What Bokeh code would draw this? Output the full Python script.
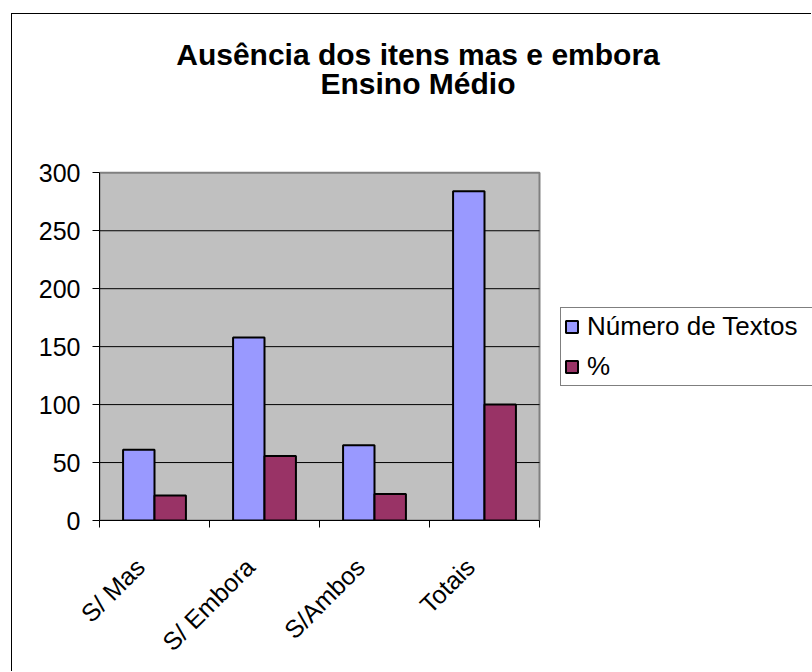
import numpy as np
from bokeh.plotting import figure
from bokeh.models import FixedTicker, Legend, LegendItem, Range1d, Label
from bokeh.embed import file_html
from bokeh.resources import INLINE

# Data
categories = ["S/ Mas", "S/ Embora", "S/Ambos", "Totais"]
numero_textos = [61, 158, 65, 284]
percentual = [21.5, 55.6, 22.9, 100]
y_ticks = [0, 50, 100, 150, 200, 250, 300]
series_names = ["Número de Textos", "%"]
title_lines = ["Ausência dos itens mas e embora", "Ensino Médio"]

FONT = "Liberation Sans"

# Layout (pixels). The frame covers the whole area right of the y axis;
# the grey plot area is a quad inside it, so title and legend can live there too.
FIG_W, FIG_H = 800, 658
BORDER_L, BORDER_B = 87, 152
FRAME_W, FRAME_H = FIG_W - BORDER_L, FIG_H - BORDER_B
AREA_W, AREA_H = 440.0, 347.7          # size of the grey plot area

n = len(categories)
y_max = y_ticks[-1]
x_scale = AREA_W / n                    # px per category
y_scale = AREA_H / y_max                # px per unit
x_end = FRAME_W / x_scale
y_end = FRAME_H / y_scale

def dx(px):            # horizontal pixel offset from frame left -> data
    return px / x_scale

def dy(px_from_top):   # pixel offset from frame top -> data
    return (FRAME_H - px_from_top) / y_scale

centers = np.arange(n) + 0.5
bar_w = 1 / 3.5          # two bars per category, gap width 150%
label_shift = 0.13       # category labels sit slightly left of the centre
boundaries = list(range(n + 1))

p = figure(
    width=FIG_W, height=FIG_H,
    x_range=Range1d(0, x_end), y_range=Range1d(0, y_end),
    title=None, output_backend="svg", toolbar_location=None,
    min_border_left=BORDER_L, min_border_right=0,
    min_border_top=0, min_border_bottom=BORDER_B,
    background_fill_color="white", border_fill_color="white",
    outline_line_color=None,
)
p.styles = {
    "margin-left": "11px", "margin-top": "13px",
    "border-left": "1px solid black", "border-top": "1px solid black",
}

# Grey plot area with its grey border
p.quad(left=0, right=n, bottom=0, top=y_max,
       fill_color="#C0C0C0", line_color="#808080", line_width=2)

# Horizontal gridlines
grid_y = [t for t in y_ticks if 0 < t < y_max]
p.segment(x0=[0] * len(grid_y), x1=[n] * len(grid_y), y0=grid_y, y1=grid_y,
          line_color="black", line_width=1)

r1 = p.vbar(x=centers - bar_w / 2, top=numero_textos, width=bar_w,
            fill_color="#9999FF", line_color="black", line_width=2)
r2 = p.vbar(x=centers + bar_w / 2, top=percentual, width=bar_w,
            fill_color="#993366", line_color="black", line_width=2)

# Title, two centred bold lines
title_cx = dx(318.5)
for line, base in zip(title_lines, [39.5, 69.0]):
    p.add_layout(Label(x=title_cx, y=dy(base), text=line,
                       text_font=FONT, text_font_size="30px", text_font_style="bold",
                       text_color="black", text_align="center",
                       text_baseline="alphabetic"))

# Y axis
p.yaxis.bounds = (0, y_max)
p.yaxis.ticker = FixedTicker(ticks=y_ticks)
p.yaxis.major_label_text_font = FONT
p.yaxis.major_label_text_font_size = "25px"
p.yaxis.major_label_text_color = "black"
p.yaxis.major_tick_out = 7
p.yaxis.major_tick_in = 0
p.yaxis.minor_tick_line_color = None
p.yaxis.axis_line_color = "black"
p.yaxis.major_tick_line_color = "black"
p.yaxis.major_label_standoff = 12

# X axis: labels per category, ticks on the category boundaries
label_pos = [float(c - label_shift) for c in centers]
p.xaxis.bounds = (0, n)
p.xaxis.ticker = FixedTicker(ticks=label_pos, minor_ticks=boundaries)
p.xaxis.major_label_overrides = {lp: lab for lp, lab in zip(label_pos, categories)}
p.xaxis.major_label_orientation = np.pi / 4
p.xaxis.major_label_text_font = FONT
p.xaxis.major_label_text_font_size = "25px"
p.xaxis.major_label_text_color = "black"
p.xaxis.major_tick_out = 0
p.xaxis.major_tick_in = 0
p.xaxis.minor_tick_out = 7
p.xaxis.minor_tick_in = 0
p.xaxis.minor_tick_line_color = "black"
p.xaxis.axis_line_color = "black"
p.xaxis.major_label_standoff = 35

p.xgrid.grid_line_color = None
p.ygrid.grid_line_color = None

legend = Legend(
    items=[LegendItem(label=series_names[0], renderers=[r1]),
           LegendItem(label=series_names[1], renderers=[r2])],
    location=(461, 134), margin=0,
    label_text_font=FONT, label_text_font_size="26px", label_text_color="black",
    glyph_width=15, glyph_height=15, label_standoff=8, label_width=226,
    spacing=9, padding=3,
    border_line_color="black", border_line_width=1,
    background_fill_color="white", background_fill_alpha=1,
)
p.add_layout(legend)

open("out.html", "w").write(file_html(p, INLINE))
